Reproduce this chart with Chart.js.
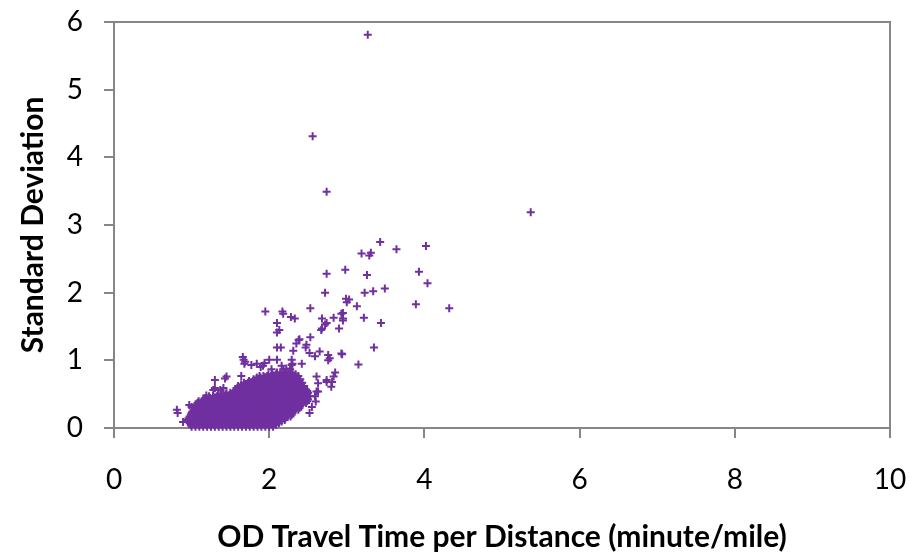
<!DOCTYPE html>
<html>
<head>
<meta charset="utf-8">
<script src="https://cdn.jsdelivr.net/npm/chart.js@4/dist/chart.umd.min.js"></script>
<style>
  html, body { margin: 0; padding: 0; background: #ffffff; }
  canvas { display: block; }
</style>
</head>
<body>
<canvas id="c" width="909" height="552"></canvas>
<script>
// ---- Data ----
const xAxisTitle = 'OD Travel Time per Distance (minute/mile)';
const yAxisTitle = 'Standard Deviation';
const xTickValues = [0, 2, 4, 6, 8, 10];
const yTickValues = [0, 1, 2, 3, 4, 5, 6];

// isolated high points
const outlierPoints = [
  [3.27, 5.81], [2.56, 4.31], [2.74, 3.49], [5.37, 3.19]
];

// scattered points around the dense cluster
const fringePoints = [
  [3.43, 2.75], [3.64, 2.64], [4.02, 2.69], [3.19, 2.58], [3.29, 2.55], [3.31, 2.59],
  [2.74, 2.28], [2.98, 2.34], [3.26, 2.26], [3.93, 2.31], [4.04, 2.14], [2.72, 2.00],
  [3.23, 2.00], [3.34, 2.02], [3.49, 2.06], [2.99, 1.91], [3.03, 1.90], [3.00, 1.86],
  [3.13, 1.80], [3.89, 1.83], [4.32, 1.77], [2.53, 1.77], [1.95, 1.72], [2.17, 1.72],
  [2.18, 1.69], [2.28, 1.64], [2.33, 1.62], [2.68, 1.62], [2.74, 1.55], [2.72, 1.53],
  [2.68, 1.47], [2.67, 1.45], [2.83, 1.63], [2.95, 1.62], [2.95, 1.70], [2.90, 1.47],
  [2.93, 1.69], [2.95, 1.59], [3.22, 1.63], [3.44, 1.55], [2.10, 1.55], [2.10, 1.41],
  [2.13, 1.45], [2.53, 1.34], [2.38, 1.30], [2.35, 1.25], [2.39, 1.31], [2.48, 1.23],
  [2.47, 1.19], [2.10, 1.19], [2.15, 1.19], [3.35, 1.19], [2.31, 1.14], [2.65, 1.13],
  [2.59, 1.06], [2.52, 1.11], [2.94, 1.09], [2.93, 1.10], [2.76, 1.08], [2.78, 1.03],
  [2.76, 1.00], [3.15, 0.94], [1.66, 1.05], [1.67, 1.01], [2.00, 1.01], [2.10, 1.01],
  [2.29, 1.01], [2.30, 0.95], [1.68, 0.95], [1.69, 0.98], [1.77, 0.93], [1.84, 0.95],
  [1.89, 0.90], [1.94, 0.96], [1.92, 0.92], [2.85, 0.82], [2.74, 0.68], [2.81, 0.68],
  [2.80, 0.61], [2.83, 0.76], [2.74, 0.71], [2.63, 0.54], [2.60, 0.39], [2.42, 0.95],
  [2.22, 0.88], [2.16, 0.92], [2.29, 0.93], [2.03, 0.87], [2.18, 0.87], [2.27, 0.87],
  [1.30, 0.71], [1.43, 0.73], [1.45, 0.76], [1.30, 0.59], [1.28, 0.56], [1.37, 0.56],
  [1.41, 0.59], [1.64, 0.77], [0.81, 0.27], [0.82, 0.22], [0.97, 0.34], [1.00, 0.31],
  [1.09, 0.22], [0.89, 0.09], [1.17, 0.44], [1.19, 0.48], [2.61, 0.76], [2.63, 0.66],
  [2.61, 0.54], [2.59, 0.47], [2.55, 0.31], [2.52, 0.22]
];

// dense cluster, one row of x values per standard-deviation level
const clusterRows = [
  [0.02, [1.00,1.05,1.10,1.15,1.20,1.25,1.30,1.35,1.40,1.45,1.50,1.55,1.60,1.65,1.70,1.75,1.80,1.85,1.90,1.95,2.00,2.05]],
  [0.045, [0.99,1.04,1.09,1.14,1.19,1.24,1.29,1.34,1.39,1.44,1.49,1.54,1.59,1.64,1.69,1.74,1.79,1.84,1.89,1.94,1.99,2.04,2.09]],
  [0.07, [0.975,1.025,1.075,1.125,1.175,1.225,1.275,1.325,1.375,1.425,1.475,1.525,1.575,1.625,1.675,1.725,1.775,1.825,1.875,1.925,1.975,2.025,2.075,2.125]],
  [0.095, [0.96,1.01,1.06,1.11,1.16,1.21,1.26,1.31,1.36,1.41,1.46,1.51,1.56,1.61,1.66,1.71,1.76,1.81,1.86,1.91,1.96,2.01,2.06,2.11,2.16]],
  [0.12, [0.95,1.00,1.05,1.10,1.15,1.20,1.25,1.30,1.35,1.40,1.45,1.50,1.55,1.60,1.65,1.70,1.75,1.80,1.85,1.90,1.95,2.00,2.05,2.10,2.15,2.20]],
  [0.145, [0.96,1.01,1.06,1.11,1.16,1.21,1.26,1.31,1.36,1.41,1.46,1.51,1.56,1.61,1.66,1.71,1.76,1.81,1.86,1.91,1.96,2.01,2.06,2.11,2.16,2.21]],
  [0.17, [0.975,1.025,1.075,1.125,1.175,1.225,1.275,1.325,1.375,1.425,1.475,1.525,1.575,1.625,1.675,1.725,1.775,1.825,1.875,1.925,1.975,2.025,2.075,2.125,2.175,2.225,2.275]],
  [0.195, [0.99,1.04,1.09,1.14,1.19,1.24,1.29,1.34,1.39,1.44,1.49,1.54,1.59,1.64,1.69,1.74,1.79,1.84,1.89,1.94,1.99,2.04,2.09,2.14,2.19,2.24,2.29]],
  [0.22, [1.00,1.05,1.10,1.15,1.20,1.25,1.30,1.35,1.40,1.45,1.50,1.55,1.60,1.65,1.70,1.75,1.80,1.85,1.90,1.95,2.00,2.05,2.10,2.15,2.20,2.25,2.30]],
  [0.245, [1.01,1.06,1.11,1.16,1.21,1.26,1.31,1.36,1.41,1.46,1.51,1.56,1.61,1.66,1.71,1.76,1.81,1.86,1.91,1.96,2.01,2.06,2.11,2.16,2.21,2.26,2.31]],
  [0.27, [1.025,1.075,1.125,1.175,1.225,1.275,1.325,1.375,1.425,1.475,1.525,1.575,1.625,1.675,1.725,1.775,1.825,1.875,1.925,1.975,2.025,2.075,2.125,2.175,2.225,2.275,2.325,2.375]],
  [0.295, [1.04,1.09,1.14,1.19,1.24,1.29,1.34,1.39,1.44,1.49,1.54,1.59,1.64,1.69,1.74,1.79,1.84,1.89,1.94,1.99,2.04,2.09,2.14,2.19,2.24,2.29,2.34,2.39]],
  [0.32, [1.05,1.10,1.15,1.20,1.25,1.30,1.35,1.40,1.45,1.50,1.55,1.60,1.65,1.70,1.75,1.80,1.85,1.90,1.95,2.00,2.05,2.10,2.15,2.20,2.25,2.30,2.35,2.40]],
  [0.345, [1.06,1.11,1.16,1.21,1.26,1.31,1.36,1.41,1.46,1.51,1.56,1.61,1.66,1.71,1.76,1.81,1.86,1.91,1.96,2.01,2.06,2.11,2.16,2.21,2.26,2.31,2.36,2.41]],
  [0.37, [1.075,1.125,1.175,1.225,1.275,1.325,1.375,1.425,1.475,1.525,1.575,1.625,1.675,1.725,1.775,1.825,1.875,1.925,1.975,2.025,2.075,2.125,2.175,2.225,2.275,2.325,2.375,2.425,2.475]],
  [0.395, [1.09,1.14,1.19,1.24,1.29,1.34,1.39,1.44,1.49,1.54,1.59,1.64,1.69,1.74,1.79,1.84,1.89,1.94,1.99,2.04,2.09,2.14,2.19,2.24,2.29,2.34,2.39,2.44,2.49]],
  [0.42, [1.15,1.20,1.25,1.30,1.35,1.40,1.45,1.50,1.55,1.60,1.65,1.70,1.75,1.80,1.85,1.90,1.95,2.00,2.05,2.10,2.15,2.20,2.25,2.30,2.35,2.40,2.45,2.50]],
  [0.445, [1.19,1.24,1.29,1.34,1.39,1.44,1.49,1.54,1.59,1.64,1.69,1.74,1.79,1.84,1.89,1.94,1.99,2.04,2.09,2.14,2.19,2.24,2.29,2.34,2.39,2.44,2.49]],
  [0.47, [1.225,1.275,1.325,1.375,1.425,1.475,1.525,1.575,1.625,1.675,1.725,1.775,1.825,1.875,1.925,1.975,2.025,2.075,2.125,2.175,2.225,2.275,2.325,2.375,2.425,2.475,2.525]],
  [0.495, [1.34,1.39,1.44,1.49,1.54,1.59,1.64,1.69,1.74,1.79,1.84,1.89,1.94,1.99,2.04,2.09,2.14,2.19,2.24,2.29,2.34,2.39,2.44,2.49]],
  [0.52, [1.45,1.50,1.55,1.60,1.65,1.70,1.75,1.80,1.85,1.90,1.95,2.00,2.05,2.10,2.15,2.20,2.25,2.30,2.35,2.40,2.45,2.50]],
  [0.545, [1.54,1.59,1.64,1.69,1.74,1.79,1.84,1.89,1.94,1.99,2.04,2.09,2.14,2.19,2.24,2.29,2.34,2.39,2.44,2.49]],
  [0.57, [1.575,1.625,1.675,1.725,1.775,1.825,1.875,1.925,1.975,2.025,2.075,2.125,2.175,2.225,2.275,2.325,2.375,2.425,2.475]],
  [0.595, [1.59,1.64,1.69,1.74,1.79,1.84,1.89,1.94,1.99,2.04,2.09,2.14,2.19,2.24,2.29,2.34,2.39,2.44]],
  [0.62, [1.60,1.65,1.70,1.75,1.80,1.85,1.90,1.95,2.00,2.05,2.10,2.15,2.20,2.25,2.30,2.35,2.40,2.45]],
  [0.645, [1.64,1.69,1.74,1.79,1.84,1.89,1.94,1.99,2.04,2.09,2.14,2.19,2.24,2.29,2.34,2.39]],
  [0.67, [1.675,1.725,1.775,1.825,1.875,1.925,1.975,2.025,2.075,2.125,2.175,2.225,2.275,2.325,2.375,2.425]],
  [0.695, [1.74,1.79,1.84,1.89,1.94,1.99,2.04,2.09,2.14,2.19,2.24,2.29,2.34,2.39]],
  [0.72, [1.80,1.85,1.90,1.95,2.00,2.05,2.10,2.15,2.20,2.25,2.30,2.35,2.40]],
  [0.745, [1.84,1.89,1.94,1.99,2.04,2.09,2.14,2.19,2.24,2.29,2.34]],
  [0.77, [1.875,1.925,1.975,2.025,2.075,2.125,2.175,2.225,2.275,2.325,2.375]],
  [0.795, [1.99,2.04,2.09,2.14,2.19,2.24,2.29,2.34]],
  [0.82, [2.10,2.15,2.20,2.25,2.30]]
];

// ---- Build the chart's data table ----
const points = [];
clusterRows.forEach(([y, xs]) => xs.forEach(x => points.push({ x, y })));
fringePoints.forEach(([x, y]) => points.push({ x, y }));
outlierPoints.forEach(([x, y]) => points.push({ x, y }));

const axisGray = '#868686';
const markerColor = '#7030A0';
const fontFamily = 'Lato, "Open Sans", sans-serif';

const plotFrame = {
  id: 'plotFrame',
  beforeDatasetsDraw(chart) {
    const { ctx, chartArea: a } = chart;
    ctx.save();
    ctx.strokeStyle = axisGray;
    ctx.lineWidth = 2;
    ctx.beginPath();
    ctx.moveTo(a.left, a.top);
    ctx.lineTo(a.right, a.top);
    ctx.lineTo(a.right, a.bottom);
    ctx.stroke();
    ctx.restore();
  }
};

new Chart(document.getElementById('c'), {
  type: 'scatter',
  data: {
    datasets: [{
      data: points,
      pointStyle: 'cross',
      pointRadius: 4,
      pointHoverRadius: 4,
      pointBorderWidth: 2,
      pointBorderColor: markerColor,
      pointBackgroundColor: markerColor,
      borderColor: markerColor,
      backgroundColor: markerColor,
      showLine: false,
      clip: false
    }]
  },
  options: {
    responsive: false,
    animation: false,
    events: [],
    layout: { autoPadding: false, padding: { left: 0, right: 19, top: 22, bottom: 0 } },
    plugins: { legend: { display: false }, tooltip: { enabled: false } },
    scales: {
      x: {
        type: 'linear',
        min: xTickValues[0],
        max: xTickValues[xTickValues.length - 1],
        afterBuildTicks(s) { s.ticks = xTickValues.map(v => ({ value: v })); },
        ticks: { color: '#000', font: { family: fontFamily, size: 28 }, padding: 25, maxRotation: 0 },
        grid: { drawOnChartArea: false, drawTicks: true, tickLength: 10, color: axisGray, lineWidth: 2 },
        border: { display: true, color: axisGray, width: 2 },
        title: {
          display: true, text: xAxisTitle, color: '#000',
          font: { family: fontFamily, size: 30, weight: 'bold', lineHeight: 1.0 },
          padding: { top: 0, bottom: 0 }
        },
        afterFit(s) { s.height = 124; s.paddingLeft = 0; s.paddingRight = 0; }
      },
      y: {
        type: 'linear',
        min: yTickValues[0],
        max: yTickValues[yTickValues.length - 1],
        afterBuildTicks(s) { s.ticks = yTickValues.map(v => ({ value: v })); },
        ticks: { color: '#000', font: { family: fontFamily, size: 28 }, padding: 21 },
        grid: { drawOnChartArea: false, drawTicks: true, tickLength: 10, color: axisGray, lineWidth: 2 },
        border: { display: true, color: axisGray, width: 2 },
        title: {
          display: true, text: yAxisTitle, color: '#000',
          font: { family: fontFamily, size: 30, weight: 'bold', lineHeight: 1.0 },
          padding: { top: 18, bottom: 0 }
        },
        afterFit(s) { s.width = 114; s.paddingTop = 0; s.paddingBottom = 0; }
      }
    }
  },
  plugins: [plotFrame]
});
</script>
</body>
</html>
